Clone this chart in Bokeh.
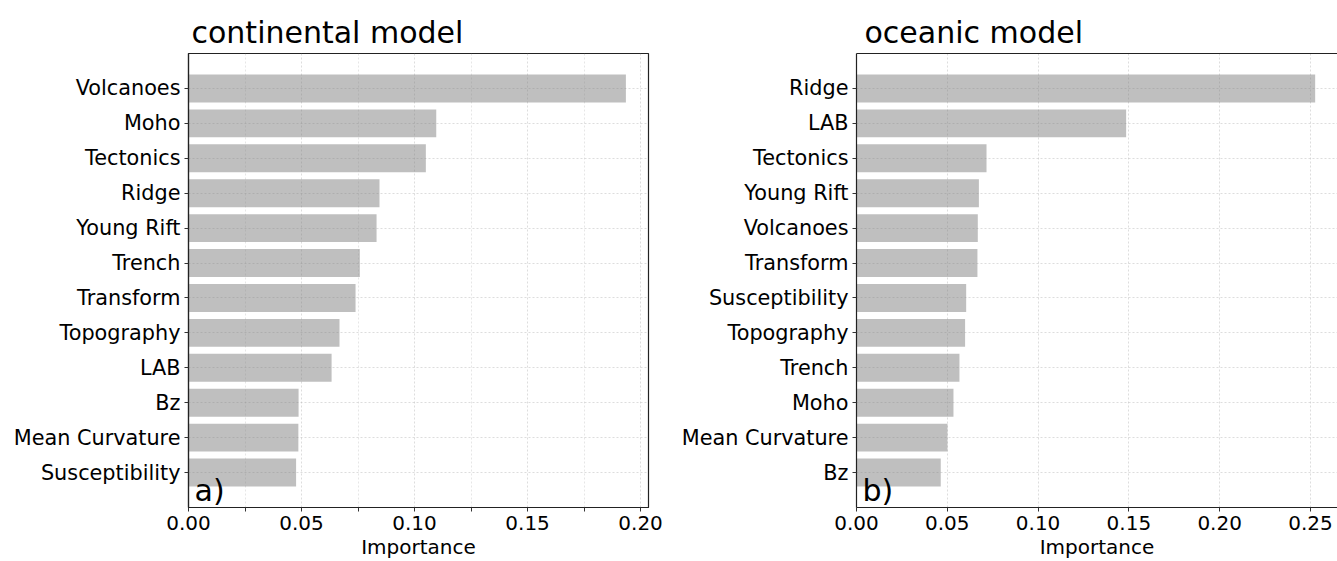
from bokeh.plotting import figure
from bokeh.models import Range1d, FixedTicker, LinearAxis, Label, PrintfTickFormatter
from bokeh.layouts import row
from bokeh.embed import file_html
from bokeh.resources import INLINE

# ---- data ----
cont_features = ["Volcanoes", "Moho", "Tectonics", "Ridge", "Young Rift", "Trench",
                 "Transform", "Topography", "LAB", "Bz", "Mean Curvature", "Susceptibility"]
cont_importance = [0.1935, 0.1096, 0.1050, 0.0845, 0.0832, 0.0758,
                   0.0739, 0.0668, 0.0633, 0.0487, 0.0486, 0.0476]

ocean_features = ["Ridge", "LAB", "Tectonics", "Young Rift", "Volcanoes", "Transform",
                  "Susceptibility", "Topography", "Trench", "Moho", "Mean Curvature", "Bz"]
ocean_importance = [0.2526, 0.1485, 0.0716, 0.0674, 0.0668, 0.0666,
                    0.0604, 0.0598, 0.0567, 0.0534, 0.0501, 0.0464]

cont_ticks = [0.00, 0.05, 0.10, 0.15, 0.20]
cont_minor_ticks = [0.025, 0.075, 0.125, 0.175]
ocean_ticks = [0.00, 0.05, 0.10, 0.15, 0.20, 0.25]

FONT = "DejaVu Sans"
H = 561


def panel(title, feats, vals, x_end, ticks, minor, width, bl, br, tag, full_outline, toff):
    n = len(feats)
    ys = [n - 1 - i for i in range(n)]
    p = figure(width=width, height=H, x_range=Range1d(0, x_end), y_range=Range1d(-1, n),
               output_backend="svg", toolbar_location=None,
               min_border_left=bl, min_border_right=br, min_border_top=53, min_border_bottom=52)
    p.background_fill_color = "white"
    p.border_fill_color = "white"
    p.hbar(y=ys, left=0, right=vals, height=0.8, fill_color="grey", fill_alpha=0.5,
           line_color=None)

    # title
    p.title.text = title
    p.title.text_font = FONT
    p.title.text_font_size = "30px"
    p.title.text_font_style = "normal"
    p.title.text_color = "black"
    p.title.align = "left"
    p.title.offset = toff
    p.title.standoff = 8

    # y axis
    p.yaxis.ticker = FixedTicker(ticks=ys)
    p.yaxis.major_label_overrides = {y: f for y, f in zip(ys, feats)}
    p.yaxis.minor_tick_line_color = None
    # x axis
    p.xaxis.ticker = FixedTicker(ticks=ticks, minor_ticks=minor)
    p.xaxis.formatter = PrintfTickFormatter(format="%.2f")
    p.xaxis.axis_label = "Importance"
    p.xaxis.axis_label_text_font = FONT
    p.xaxis.axis_label_text_font_size = "20px"
    p.xaxis.axis_label_text_font_style = "normal"
    p.xaxis.axis_label_text_color = "black"
    p.xaxis.axis_label_standoff = 2
    p.xaxis.minor_tick_out = 4
    p.xaxis.minor_tick_in = 0
    p.xaxis.minor_tick_line_color = "#333333" if minor else None

    for ax in (p.xaxis, p.yaxis):
        ax.major_label_text_font = FONT
        ax.major_label_text_font_size = "20px"
        ax.major_label_text_color = "black"
        ax.major_tick_in = 0
        ax.major_tick_out = 4
        ax.major_tick_line_color = "#333333"
        ax.axis_line_color = "#222222"
        ax.axis_line_width = 1.2
        ax.major_label_standoff = 4
    p.yaxis.major_label_text_font_size = "20.8px"

    # grid
    p.xgrid.ticker = FixedTicker(ticks=ticks, minor_ticks=minor)
    for g in (p.xgrid, p.ygrid):
        g.grid_line_color = "#b0b0b0"
        g.grid_line_alpha = 0.55
        g.grid_line_dash = "2 2"
        g.grid_line_width = 0.8
    if minor:
        p.xgrid.minor_grid_line_color = "#b0b0b0"
        p.xgrid.minor_grid_line_alpha = 0.4
        p.xgrid.minor_grid_line_dash = "2 2"
        p.xgrid.minor_grid_line_width = 0.8

    if full_outline:
        p.outline_line_color = "#222222"
        p.outline_line_width = 1.2
    else:
        p.outline_line_color = None
        top = LinearAxis(ticker=FixedTicker(ticks=[]), major_label_text_font_size="0px",
                         major_tick_line_color=None, minor_tick_line_color=None,
                         axis_line_color="#222222", axis_line_width=1.2)
        p.add_layout(top, "above")

    p.add_layout(Label(x=0, y=p.y_range.start, x_offset=6, y_offset=17, text=tag,
                       text_font=FONT, text_font_size="30px", text_color="black",
                       text_baseline="alphabetic"))
    return p


left = panel("continental model", cont_features, cont_importance, 0.2035,
             cont_ticks, cont_minor_ticks, 668, 188, 20, "a)", True, 3)
right = panel("oceanic model", ocean_features, ocean_importance, 0.2649,
              ocean_ticks, [], 669, 188, 0, "b)", False, 8)

layout = row(left, right)
open("out.html", "w").write(file_html(layout, INLINE))
